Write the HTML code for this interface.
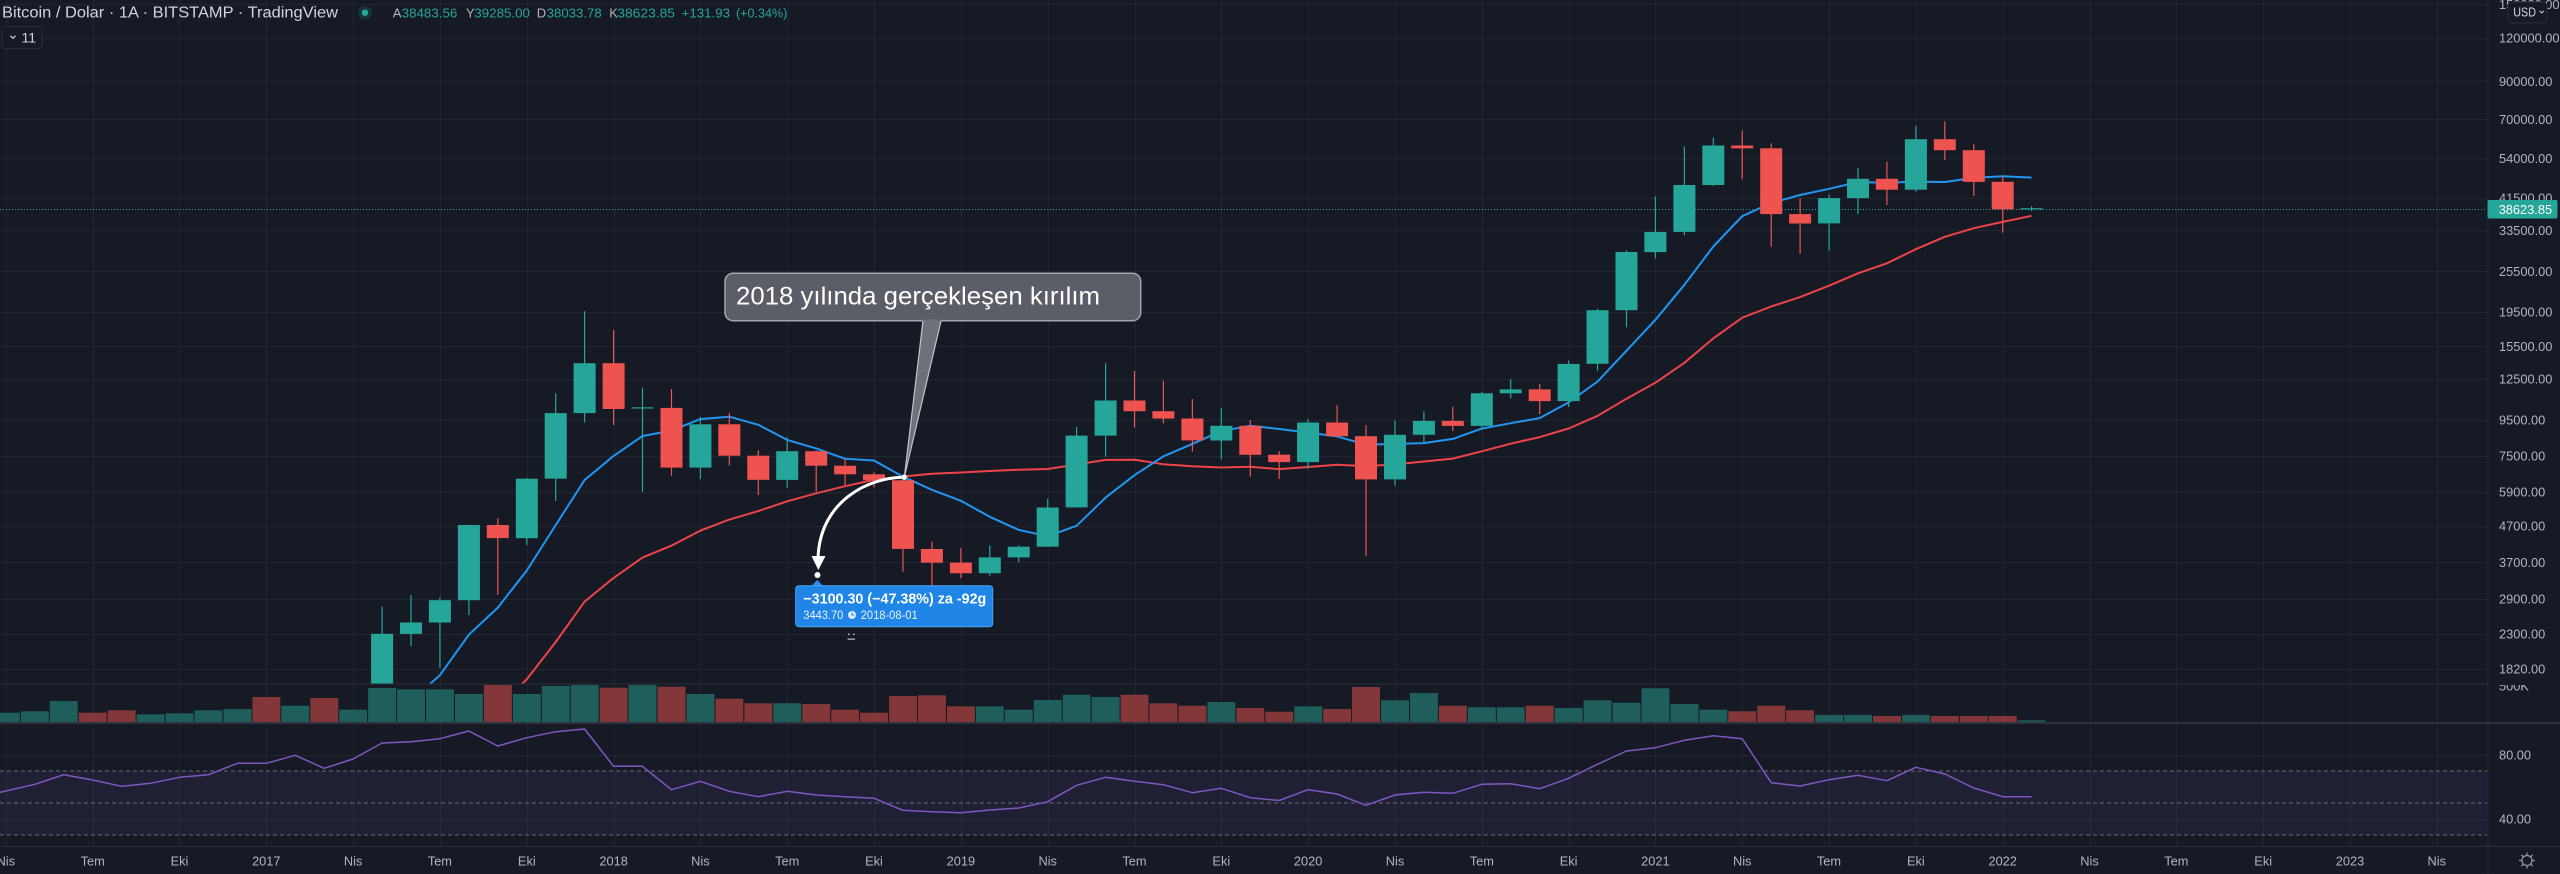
<!DOCTYPE html>
<html><head><meta charset="utf-8">
<style>
html,body{margin:0;padding:0;background:#161a25;width:2560px;height:874px;overflow:hidden;position:relative}
svg{display:block;position:absolute;top:0;left:0;overflow:hidden}
text{font-family:"Liberation Sans",sans-serif}
</style></head><body><svg id="c" width="2560" height="874" viewBox="0 0 2560 874" xmlns="http://www.w3.org/2000/svg">
<defs>
<clipPath id="mainClip"><rect x="0" y="0" width="2487" height="684"/></clipPath>
<clipPath id="volClip"><rect x="0" y="685" width="2487" height="37"/></clipPath>
<clipPath id="rsiClip"><rect x="0" y="724" width="2487" height="122"/></clipPath>
<clipPath id="axClip"><rect x="2489" y="685" width="71" height="37"/></clipPath>
</defs>
<rect width="2560" height="874" fill="#161a25"/>
<g id="grid" stroke="#222632" stroke-width="1"></g>
<rect x="0" y="771" width="2487" height="64" fill="rgba(126,87,194,0.1)"/>
<g stroke="#696c77" stroke-width="1" stroke-dasharray="4 3">
<line x1="0" y1="771" x2="2487" y2="771"/>
<line x1="0" y1="803" x2="2487" y2="803"/>
<line x1="0" y1="835" x2="2487" y2="835"/>
</g>
<g id="rsi" clip-path="url(#rsiClip)"></g>
<g id="vol" clip-path="url(#volClip)"></g>
<line x1="0" y1="209.5" x2="2487" y2="209.5" stroke="#26a69a" stroke-width="1" stroke-dasharray="1 2"/>
<g id="mas" clip-path="url(#mainClip)"></g>
<g id="candles" clip-path="url(#mainClip)"></g>

<line x1="0" y1="684" x2="2488" y2="684" stroke="#2a2e39" stroke-width="1"/>
<line x1="0" y1="723" x2="2560" y2="723" stroke="#2e3240" stroke-width="2"/>
<line x1="0" y1="846.5" x2="2560" y2="846.5" stroke="#2a2e39" stroke-width="1"/>
<line x1="2488" y1="0" x2="2488" y2="873.5" stroke="#2a2e39" stroke-width="1"/>

<g font-size="12.8" fill="#b2b5be">
<text x="2499" y="9">150000.00</text>
<text x="2499" y="42.6">120000.00</text>
<text x="2499" y="85.9">90000.00</text>
<text x="2499" y="123.8">70000.00</text>
<text x="2499" y="162.9">54000.00</text>
<text x="2499" y="202.6">41500.00</text>
<text x="2499" y="234.8">33500.00</text>
<text x="2499" y="276">25500.00</text>
<text x="2499" y="316.4">19500.00</text>
<text x="2499" y="351">15500.00</text>
<text x="2499" y="383.4">12500.00</text>
<text x="2499" y="424.7">9500.00</text>
<text x="2499" y="460.3">7500.00</text>
<text x="2499" y="496.5">5900.00</text>
<text x="2499" y="530.7">4700.00</text>
<text x="2499" y="566.8">3700.00</text>
<text x="2499" y="603.5">2900.00</text>
<text x="2499" y="638.4">2300.00</text>
<text x="2499" y="673.7">1820.00</text>
<text x="2499" y="690.7" clip-path="url(#axClip)">500K</text>
<text x="2499" y="759.6">80.00</text>
<text x="2499" y="823.6">40.00</text>
</g>
<rect x="2487.5" y="200" width="70" height="18.5" rx="2" fill="#26a69a"/>
<text x="2498.7" y="214" font-size="12.8" fill="#ffffff">38623.85</text>
<rect x="2508" y="2" width="39" height="21" rx="4" fill="#161a25" stroke="#2a2e39" stroke-width="1"/>
<text x="2513.3" y="16.5" font-size="12.5" fill="#d1d4dc" textLength="22.7" lengthAdjust="spacingAndGlyphs">USD</text>
<path d="M2539.6,10.8 L2541.7,12.9 L2543.8,10.8" fill="none" stroke="#d1d4dc" stroke-width="1"/>

<g font-size="12.8" fill="#b2b5be" text-anchor="middle">
<text x="5.8" y="865.5">Nis</text>
<text x="92.7" y="865.5">Tem</text>
<text x="179.5" y="865.5">Eki</text>
<text x="266.3" y="865.5">2017</text>
<text x="353.1" y="865.5">Nis</text>
<text x="439.9" y="865.5">Tem</text>
<text x="526.8" y="865.5">Eki</text>
<text x="613.6" y="865.5">2018</text>
<text x="700.4" y="865.5">Nis</text>
<text x="787.2" y="865.5">Tem</text>
<text x="874" y="865.5">Eki</text>
<text x="960.9" y="865.5">2019</text>
<text x="1047.7" y="865.5">Nis</text>
<text x="1134.5" y="865.5">Tem</text>
<text x="1221.3" y="865.5">Eki</text>
<text x="1308.1" y="865.5">2020</text>
<text x="1395" y="865.5">Nis</text>
<text x="1481.8" y="865.5">Tem</text>
<text x="1568.6" y="865.5">Eki</text>
<text x="1655.4" y="865.5">2021</text>
<text x="1742.2" y="865.5">Nis</text>
<text x="1829" y="865.5">Tem</text>
<text x="1915.9" y="865.5">Eki</text>
<text x="2002.7" y="865.5">2022</text>
<text x="2089.5" y="865.5">Nis</text>
<text x="2176.3" y="865.5">Tem</text>
<text x="2263.2" y="865.5">Eki</text>
<text x="2350" y="865.5">2023</text>
<text x="2436.8" y="865.5">Nis</text>
</g>
<g stroke="#9598a1" stroke-width="1.2" fill="none">
<circle cx="2527" cy="860.5" r="5"/>
<path d="M2527,852.5 v2.5 M2527,866 v2.5 M2519,860.5 h2.5 M2532.5,860.5 h2.5 M2521.3,854.8 l1.8,1.8 M2530.9,864.4 l1.8,1.8 M2532.7,854.8 l-1.8,1.8 M2523.1,864.4 l-1.8,1.8"/>
</g>

<text x="2" y="17.5" font-size="15.5" fill="#d1d4dc" textLength="336" lengthAdjust="spacingAndGlyphs">Bitcoin / Dolar · 1A · BITSTAMP · TradingView</text>
<circle cx="365" cy="12.7" r="7" fill="rgba(38,166,154,0.18)"/>
<circle cx="365" cy="12.7" r="3.2" fill="#26a69a"/>
<g font-size="13">
<text x="392.7" y="17.3" fill="#b2b5be">A</text>
<text x="401.7" y="17.3" fill="#26a69a" textLength="55.6" lengthAdjust="spacingAndGlyphs">38483.56</text>
<text x="466" y="17.3" fill="#b2b5be">Y</text>
<text x="474.3" y="17.3" fill="#26a69a" textLength="55.7" lengthAdjust="spacingAndGlyphs">39285.00</text>
<text x="536.7" y="17.3" fill="#b2b5be">D</text>
<text x="546.7" y="17.3" fill="#26a69a" textLength="55" lengthAdjust="spacingAndGlyphs">38033.78</text>
<text x="609.3" y="17.3" fill="#b2b5be">K</text>
<text x="617.3" y="17.3" fill="#26a69a" textLength="57.7" lengthAdjust="spacingAndGlyphs">38623.85</text>
<text x="681.7" y="17.3" fill="#26a69a" textLength="48.3" lengthAdjust="spacingAndGlyphs">+131.93</text>
<text x="736" y="17.3" fill="#26a69a" textLength="51.3" lengthAdjust="spacingAndGlyphs">(+0.34%)</text>
</g>
<rect x="2" y="26.5" width="40" height="22" rx="3" fill="#161a25" stroke="#2a2e39" stroke-width="1"/>
<path d="M10.5,35.8 L13,38.3 L15.5,35.8" fill="none" stroke="#d1d4dc" stroke-width="1.2"/>
<text x="21.5" y="42.5" font-size="14" fill="#d1d4dc">11</text>

<rect x="725" y="273.3" width="415.7" height="47.4" rx="8" fill="#5b5e67" stroke="#a3a6af" stroke-width="1.5"/>
<polygon points="922.5,319.5 941.5,319.5 904.3,477.3" fill="#6e717a"/>
<path d="M923,321 L904.3,477.3 L941,321" fill="none" stroke="#c0c3ca" stroke-width="1.2"/>
<text x="736" y="304.3" font-size="25" fill="#ffffff" textLength="364" lengthAdjust="spacingAndGlyphs">2018 yılında gerçekleşen kırılım</text>

<path d="M904.3,477.3 C870,477 820,500 818,558" fill="none" stroke="#ffffff" stroke-width="3"/>
<polygon points="811.5,556 825.5,556 818.3,570" fill="#ffffff"/>
<circle cx="817.5" cy="575" r="3" fill="#ffffff"/>
<circle cx="904.3" cy="477.3" r="2.5" fill="#ffffff" stroke="#d0d0d0" stroke-width="1"/>

<polygon points="811,586.5 823.5,586.5 817.3,580" fill="#2a8ef0"/>
<rect x="795.7" y="585.7" width="197" height="41" rx="3" fill="#1f86e8" stroke="#4aa3f3" stroke-width="1"/>
<text x="803.3" y="603.3" font-size="14.5" font-weight="bold" fill="#ffffff" textLength="183" lengthAdjust="spacingAndGlyphs">−3100.30 (−47.38%) za -92g</text>
<text x="803.3" y="618.8" font-size="12" fill="#e8f2fd" textLength="40" lengthAdjust="spacingAndGlyphs">3443.70</text>
<circle cx="852" cy="615" r="4" fill="#d9e9fb"/>
<path d="M852,612.5 V615 H854" fill="none" stroke="#1f86e8" stroke-width="1"/>
<text x="860.7" y="618.8" font-size="12" fill="#e8f2fd" textLength="57" lengthAdjust="spacingAndGlyphs">2018-08-01</text>
<g fill="#b2b5be">
<rect x="848" y="633.5" width="1.6" height="1.6"/><rect x="853" y="633.5" width="1.6" height="1.6"/>
<rect x="847.5" y="638.5" width="7.5" height="1.3"/>
</g>
</svg><script>
(function(){
var NS="http://www.w3.org/2000/svg";
function el(t,a,p){var e=document.createElementNS(NS,t);for(var k in a)e.setAttribute(k,a[k]);p.appendChild(e);return e;}
function X(k){return 266.3+28.94*k;}
function Y(p){return 38+(11.6952-Math.log(p))*150.67;}
var g=document.getElementById('grid');
var py=[150000,120000,90000,70000,54000,41500,33500,25500,19500,15500,12500,9500,7500,5900,4700,3700,2900,2300,1820];
py.forEach(function(p){var y=Math.round(Y(p))+0.5;el('line',{x1:0,y1:y,x2:2487,y2:y},g);});
[755.5,819.5].forEach(function(y){el('line',{x1:0,y1:y,x2:2487,y2:y},g);});
for(var n=0;n<=28;n++){var x=Math.round(X(-9+3*n))+0.5;el('line',{x1:x,y1:0,x2:x,y2:846},g);}
var D=[
[430,462,350,368.8],[368.8,448,365,437.7],[437.7,440,405,416],[416,467,412,448.5],[448.5,550,436,531],[531,777,520,672],[672,704,604,624.6],[624.6,626,468,574],[574,629,571,609.7],[609.7,736,606,700],[700,755,681,742.5],[742.5,979,743,963.4],
[963.4,1153,753,965.5],[965.5,1200,936,1190],[1190,1280,890,1079],[1079,1350,1075,1348],[1348,2760,1348,2300],[2300,2980,2120,2480],[2480,2930,1833,2875],[2875,4750,2606,4735],[4735,4950,2975,4340],[4340,6470,4150,6440],[6440,11340,5560,9950],[9950,19580,9360,13860],
[13860,17270,9200,10230],[10230,11790,5900,10300],[10300,11680,6570,6930],[6930,9710,6420,9240],[9240,9960,7030,7500],[7500,7770,5780,6390],[6390,8450,6070,7730],[7730,7760,5900,7020],[7020,7340,6170,6630],[6630,6720,6070,6370],[6370,6580,3475,4040],[4040,4240,3148,3690],
[3690,4060,3330,3440],[3440,4130,3380,3820],[3820,4140,3700,4100],[4100,5635,4100,5320],[5320,9085,5320,8570],[8570,13860,7450,10820],[10820,13160,9050,10080],[10080,12340,9300,9600],[9600,10920,7710,8300],[8300,10300,7330,9150],[9150,9500,6530,7550],[7550,7730,6430,7190],
[7190,9550,6870,9350],[9350,10480,8450,8540],[8540,9190,3855,6410],[6410,9470,6150,8620],[8620,10070,8110,9450],[9450,10380,8830,9140],[9140,11450,8900,11350],[11350,12470,10970,11650],[11650,12070,9880,10780],[10780,14100,10370,13800],[13800,19900,13200,19700],[19700,29300,17600,28990],
[28990,41900,27800,33140],[33140,58400,32400,45240],[45240,61900,44950,58800],[58800,64900,47090,57720],[57720,59650,30030,37300],[37300,41400,28640,35040],[35040,42360,29260,41460],[41460,50560,37250,47130],[47130,52800,39630,43830],[43830,67000,43270,61300],[61300,68960,53400,57000],[57000,59300,42070,46200],
[46200,47800,32970,38483.56],[38483.56,39285,38033.78,38623.85]
];
var UP="#26a69a",DN="#ef5350";
var mas=document.getElementById('mas');
function sma(n,color){var d="";for(var i=n-1;i<D.length;i++){var s=0;for(var j=i-n+1;j<=i;j++)s+=D[j][3];var v=s/n;var x=X(i-12),y=Y(v);d+=(d?" L":"M")+x.toFixed(1)+","+y.toFixed(1);}
el('path',{d:d,fill:"none",stroke:color,"stroke-width":2,"stroke-linejoin":"round"},mas);}
sma(20,"#ee4449");sma(7,"#2196f3");
var cg=document.getElementById('candles');
for(var i=0;i<D.length;i++){var o=D[i][0],h=D[i][1],l=D[i][2],c=D[i][3];var x=X(i-12);var col=c>=o?UP:DN;
var yh=Y(h),yl=Y(l),yo=Y(o),yc=Y(c);
el('rect',{x:(x-0.6).toFixed(1),y:yh.toFixed(1),width:1.2,height:Math.max(1,yl-yh).toFixed(1),fill:col},cg);
var t=Math.min(yo,yc),b=Math.max(yo,yc);if(b-t<1.2){t-=0.6;b=t+1.2;}
el('rect',{x:(x-11).toFixed(1),y:t.toFixed(1),width:22,height:(b-t).toFixed(1),fill:col},cg);}
var V=[[712.7,1],[711.3,1],[701,1],[712.7,0],[710.3,0],[714.3,1],[713.3,1],[710.3,1],[709,1],[697,0],[705.7,1],[698,0],[709.7,1],[688,1],[689.3,1],[689.3,1],[694,1],[684.3,0],[694,1],[686,1],[684.3,1],[687.7,0],[684.3,1],[686.7,0],[694,1],[698.7,0],[703.3,0],[703.3,1],[704,0],[709.7,0],[712.7,0],[696,0],[695.3,0],[706.3,0],[706.3,1],[709.7,1],[700,1],[694.7,1],[697,1],[694.7,0],[703.3,0],[705.7,0],[702,1],[708,0],[711.7,0],[706.3,1],[709,0],[687,0],[700.3,1],[693,1],[705.7,0],[707.3,1],[707.3,1],[705.7,0],[708,1],[700.3,1],[702.7,1],[688.3,1],[704,1],[709.7,1],[711.3,0],[705.7,0],[710.3,0],[715,1],[715,1],[716,0],[715,1],[716,0],[716,0],[716,0],[720.3,1]];
var vg=document.getElementById('vol');
for(var k=0;k<V.length;k++){var x=X(k-9);el('rect',{x:(x-13.9).toFixed(1),y:V[k][0],width:27.9,height:(722.5-V[k][0]).toFixed(1),fill:V[k][1]?"#1e5f5b":"#843739"},vg);}
var R=[798,791,784.3,774.7,780,786.3,783.3,777.3,774.7,763.3,763.3,755.3,768.3,759,743,741.7,738.7,731,746,737.7,731.7,729,766.3,766.3,789.7,781.3,791.3,796.7,791.3,795,796.7,798.3,810.3,811.7,812.7,810,808,801.7,785.3,777.3,781.3,784.7,792.7,788.3,797.7,800.5,789.7,794,805.3,795,792.3,793.3,784.3,783.7,788.7,778.3,764.3,751,747.7,740.3,735.7,738.7,782.7,786,779.7,775.3,780.7,767.3,774,788,796.7,796.7];
var d="";for(var k=0;k<R.length;k++){d+=(d?" L":"M")+X(k-10).toFixed(1)+","+R[k];}
el('path',{d:d,fill:"none",stroke:"#7e57c2","stroke-width":1.5,"stroke-linejoin":"round"},document.getElementById('rsi'));
})();
</script></body></html>
